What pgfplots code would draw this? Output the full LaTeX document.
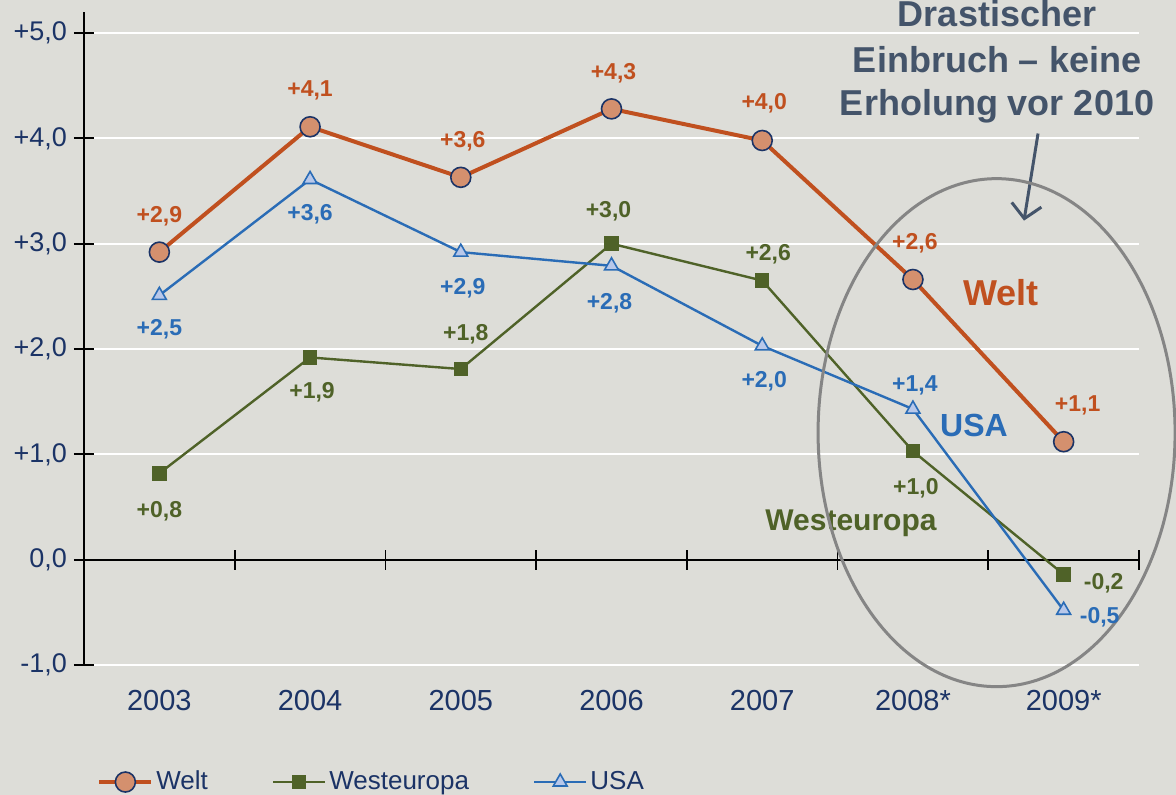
\documentclass[border=0pt]{standalone}
\usepackage{fontspec}
\setmainfont{Liberation Sans}
\usepackage{pgfplots}
\pgfplotsset{compat=1.18}
\usepackage{pgfplotstable}
\usetikzlibrary{arrows.meta,backgrounds}

\definecolor{bg}{HTML}{DDDDD8}
\definecolor{welt}{HTML}{C0501F}
\definecolor{weltfill}{HTML}{D4906E}
\definecolor{west}{HTML}{4F6228}
\definecolor{usa}{HTML}{2A6CB6}
\definecolor{usafill}{HTML}{B8C8EA}
\definecolor{navy}{HTML}{1B3366}
\definecolor{note}{HTML}{44546A}
\definecolor{ring}{HTML}{858585}

% x = year index (0 = 2003), lab = printed value, dx/dy = label offset in pt
\pgfplotstableread{
x y lab dx dy
0 2.92 +2,9 0 18
1 4.11 +4,1 0 18
2 3.63 +3,6 1 18
3 4.28 +4,3 1 18
4 3.98 +4,0 1 18.5
5 2.66 +2,6 1 18
6 1.12 +1,1 7 18
}\welttab

\pgfplotstableread{
x y lab dx dy
0 0.82 +0,8 0 -19
1 1.92 +1,9 1 -17.5
2 1.81 +1,8 2.5 17.5
3 3.00 +3,0 -1.5 16
4 2.65 +2,6 3 13
5 1.03 +1,0 1.5 -18.5
6 -0.14 -0,2 20 -4.5
}\westtab

\pgfplotstableread{
x y lab dx dy
0 2.51 +2,5 0 -17
1 3.61 +3,6 0 -17.5
2 2.92 +2,9 1 -18
3 2.79 +2,8 -1 -18.5
4 2.03 +2,0 1 -17.5
5 1.43 +1,4 1 12
6 -0.48 -0,5 18 -3.5
}\usatab

% label-only plots (kept out of the legend)
\pgfplotsset{
  labelled/.style={
    draw=none, mark=none, forget plot,
    nodes near coords,
    visualization depends on={\thisrow{dx}\as\dx},
    visualization depends on={\thisrow{dy}\as\dy},
    every node near coord/.append style={anchor=center, xshift=\dx pt, yshift=\dy pt,
      font=\bfseries\fontsize{11.5}{13}\selectfont, text=#1},
  },
}

\begin{document}
\begin{tikzpicture}
\begin{axis}[
    name=ax,
    width=527.5pt, height=326.5pt, scale only axis,
    xmin=-0.5, xmax=6.5, ymin=-1, ymax=5.2,
    axis x line*=bottom, axis y line*=left,
    x axis line style={draw=none},
    y axis line style={-, black, line width=0.9pt},
    xtick={0,...,6},
    xticklabels={2003,2004,2005,2006,2007,2008*,2009*},
    x tick style={draw=none},
    xticklabel style={font=\fontsize{14.5}{16}\selectfont, text=navy, yshift=-4pt},
    ytick={-1,...,5},
    yticklabels={{-1,0},{0,0},{+1,0},{+2,0},{+3,0},{+4,0},{+5,0}},
    tick align=center, major tick length=10pt,
    y tick style={black, line width=0.9pt},
    yticklabel style={font=\fontsize{13.5}{15}\selectfont, text=navy},
    ymajorgrids, grid style={white, line width=1pt},
    clip=false,
    point meta=explicit symbolic,
    legend columns=3,
    legend style={at={(axis description cs:0.0123,-0.1792)}, anchor=west,
      draw=none, fill=none, inner sep=0pt,
      font=\fontsize{13}{15}\selectfont, text=navy,
      nodes={inner sep=1.5pt},
      /tikz/every even column/.append style={column sep=30.5pt}},
    legend image code/.code={\draw[mark repeat=2,mark phase=2,#1]
      plot coordinates {(0pt,0pt) (13pt,0pt) (26pt,0pt)};},
]
% zero line with ticks between the years
\draw[black, line width=1pt] (axis cs:-0.5,0) -- (axis cs:6.5,0);
\pgfplotsinvokeforeach{0.5,1.5,...,6.5}{
  \draw[black, line width=0.9pt] ([yshift=-5pt]axis cs:#1,0) -- ([yshift=5pt]axis cs:#1,0);
}

\addplot[welt, line width=2pt, mark=*, mark size=5pt,
  mark options={fill=weltfill, draw=navy, line width=0.8pt}]
  table[x=x, y=y] {\welttab};
\addplot[west, line width=1.2pt, mark=square*, mark size=3pt,
  mark options={fill=west, draw=west}]
  table[x=x, y=y] {\westtab};
\addplot[usa, line width=1.2pt, mark=triangle*, mark size=4pt,
  mark options={fill=usafill, draw=usa, line width=0.8pt}]
  table[x=x, y=y] {\usatab};
\legend{Welt, Westeuropa, USA}

\addplot[labelled=welt] table[x=x, y=y, meta=lab] {\welttab};
\addplot[labelled=west] table[x=x, y=y, meta=lab] {\westtab};
\addplot[labelled=usa] table[x=x, y=y, meta=lab] {\usatab};

\node[font=\bfseries\fontsize{18}{20}\selectfont, text=welt, anchor=base] at (axis cs:5.585,2.412) {Welt};
\node[font=\bfseries\fontsize{16}{18}\selectfont, text=usa, anchor=base] at (axis cs:5.405,1.168) {USA};
\node[font=\bfseries\fontsize{15}{17}\selectfont, text=west, anchor=base] at (axis cs:4.589,0.275) {Westeuropa};

\node[font=\bfseries\fontsize{18}{20}\selectfont, text=note, anchor=base] at (axis cs:5.558,5.062) {Drastischer};
\node[font=\bfseries\fontsize{18}{20}\selectfont, text=note, anchor=base] at (axis cs:5.558,4.625) {Einbruch – keine};
\node[font=\bfseries\fontsize{18}{20}\selectfont, text=note, anchor=base] at (axis cs:5.558,4.217) {Erholung vor 2010};
\draw[note, line width=1.5pt, -{Straight Barb[length=7pt,width=15pt]}]
  (axis cs:5.830,4.046) -- (axis cs:5.737,3.219);
\draw[ring, line width=1.5pt] (axis cs:5.555,1.206) ellipse [x radius=89.25pt, y radius=127pt];
\end{axis}
\pgfresetboundingbox
\path[use as bounding box] ([xshift=-42pt,yshift=-65pt]ax.south west) rectangle ([xshift=18.5pt,yshift=6pt]ax.north east);
\begin{scope}[on background layer]
\fill[bg] ([xshift=-42pt,yshift=-65pt]ax.south west) rectangle ([xshift=18.5pt,yshift=6pt]ax.north east);
\end{scope}
\end{tikzpicture}
\end{document}
